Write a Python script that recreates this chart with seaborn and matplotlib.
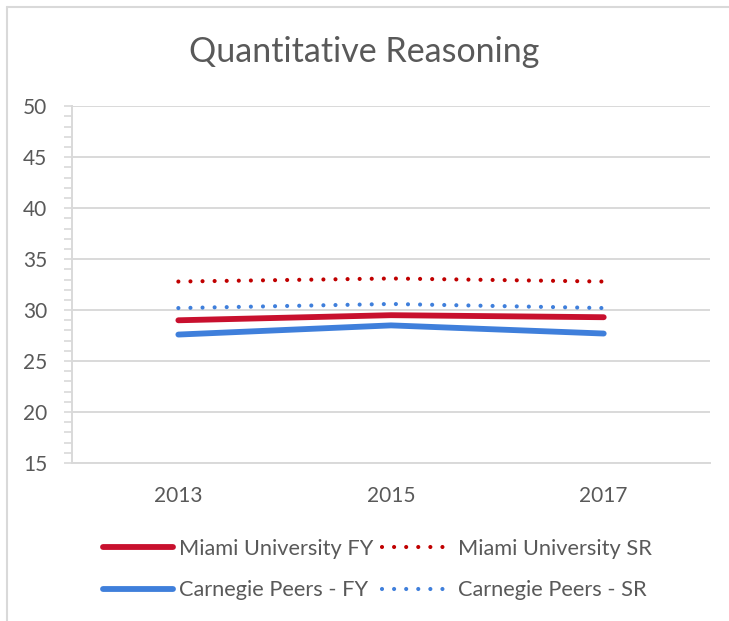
import pandas as pd
import matplotlib.pyplot as plt
import seaborn as sns
from matplotlib.ticker import MultipleLocator
from matplotlib.lines import Line2D

# Dados
anos = ['2013', '2015', '2017']
miami_fy = [29.0, 29.5, 29.3]
miami_sr = [32.8, 33.1, 32.8]
carnegie_fy = [27.6, 28.5, 27.7]
carnegie_sr = [30.2, 30.6, 30.2]

series = [
    ('Miami University FY', miami_fy, '#C8102E', '-'),
    ('Carnegie Peers - FY', carnegie_fy, '#3F7FDB', '-'),
    ('Miami University SR', miami_sr, '#C00000', ':'),
    ('Carnegie Peers - SR', carnegie_sr, '#3F7FDB', ':'),
]

sns.set_style('white')
plt.rcParams['font.family'] = ['Lato', 'DejaVu Sans']
cinza = '#595959'
grade = '#D9D9D9'

fig = plt.figure(figsize=(7.29, 6.21), dpi=100)
ax = fig.add_axes([0.0988, 0.2544, 0.8752, 0.5746])

handles = []
for nome, valores, cor, estilo in series:
    df = pd.DataFrame({'ano': anos, 'valor': valores})
    if estilo == '-':
        kw = dict(linewidth=4.2, solid_capstyle='round')
    else:
        kw = dict(linewidth=3.0, linestyle=(0, (0.001, 2.9)), dash_capstyle='round')
    sns.lineplot(data=df, x='ano', y='valor', color=cor, ax=ax, **kw)
    handles.append(Line2D([], [], color=cor, label=nome, **kw))

ax.set_xlim(-0.5, 2.5)
ax.set_ylim(15, 50)
ax.yaxis.set_major_locator(MultipleLocator(5))
ax.yaxis.set_minor_locator(MultipleLocator(1))
ax.grid(axis='y', color=grade, linewidth=1.4)
ax.set_axisbelow(True)
for lado in ['top', 'right']:
    ax.spines[lado].set_visible(False)
for lado in ['left', 'bottom']:
    ax.spines[lado].set_color(grade)
    ax.spines[lado].set_linewidth(1.4)
ax.tick_params(axis='y', which='both', left=True, color=grade, width=1.2, length=6,
               labelsize=15, labelcolor=cinza, pad=12)
ax.tick_params(axis='x', bottom=False, labelsize=15, labelcolor=cinza, pad=13)
ax.set_xlabel('')
ax.set_ylabel('')

fig.text(0.5, 0.916, 'Quantitative Reasoning', ha='center', va='center',
         fontsize=24.5, color=cinza)

fig.legend(handles=handles, ncol=2, loc='center', bbox_to_anchor=(0.518, 0.083),
           frameon=False, fontsize=15.7, labelcolor=cinza, handlelength=3.2,
           handletextpad=0.28, columnspacing=0.4, labelspacing=1.0)

# moldura do gráfico
fig.add_artist(Line2D([0.009, 0.009], [0.0, 0.989], color=grade, linewidth=1.5,
                      transform=fig.transFigure))
fig.add_artist(Line2D([0.009, 1.0], [0.989, 0.989], color=grade, linewidth=1.5,
                      transform=fig.transFigure))

fig.savefig('out.png', dpi=100)
